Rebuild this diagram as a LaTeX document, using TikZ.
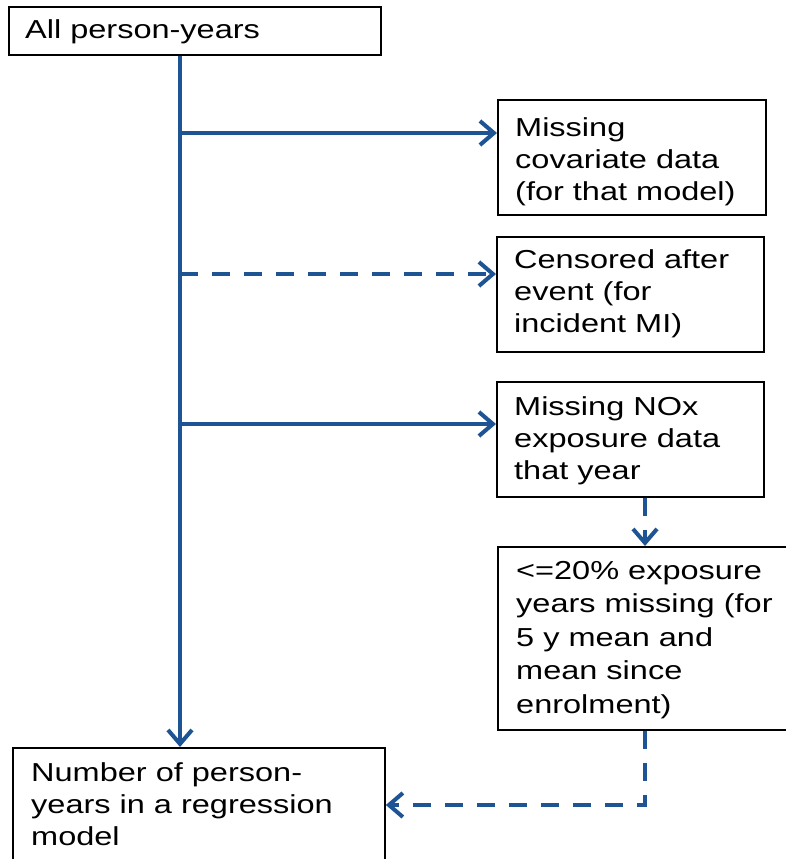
\documentclass[tikz,border=0pt]{standalone}
\usepackage{fontspec}
\setmainfont{Liberation Sans}[FakeStretch=1.25]
\usetikzlibrary{arrows.meta}
\definecolor{flowblue}{RGB}{30,84,148}
\tikzset{
  box/.style={draw=black, line width=1.8pt, anchor=north west, inner sep=0pt, fill=white},
  txt/.style={anchor=north west, inner sep=0pt, align=left, font=\fontsize{26}{32}\selectfont},
  flow/.style={line width=4pt, draw=flowblue, -{Straight Barb[length=14pt,width=24pt,line width=4pt]}},
  dashflow/.style={flow, dash pattern=on 18pt off 14pt},
}
\begin{document}
\begin{tikzpicture}[x=1pt,y=-1pt]
\useasboundingbox (0,0) rectangle (786,859);
\clip (0,0) rectangle (786,859);
\fill[white] (0,0) rectangle (786,859);
% boxes
\node[box, minimum width=372pt, minimum height=48pt] (top) at (8,6) {};
\node[box, minimum width=268pt, minimum height=115pt] (b1) at (497,99) {};
\node[box, minimum width=267pt, minimum height=115pt] (b2) at (496,236) {};
\node[box, minimum width=267pt, minimum height=115pt] (b3) at (496,381) {};
\node[box, minimum width=300pt, minimum height=183pt] (b4) at (497,546) {};
\node[box, minimum width=372pt, minimum height=130pt] (b5) at (12,747) {};
% texts
\node[txt] (t0) at (25,19) {All person-years};
\node[txt] (t1) at (515,117) {Missing\\covariate data\\(for that model)};
\node[txt] (t2) at (514,249) {Censored after\\event (for\\incident MI)};
\node[txt] (t3) at (514,396) {Missing NOx\\exposure data\\that year};
\node[txt, font=\fontsize{26}{33.5}\selectfont] (t4) at (516,561) {<=20\% exposure\\years missing (for\\5 y mean and\\mean since\\enrolment)};
\node[txt] (t5) at (31,762) {Number of person-\\years in a regression\\model};
% coordinates
\coordinate (spine) at (180,0);
\coordinate (j1) at (180,133);
\coordinate (j2) at (180,274);
\coordinate (j3) at (180,424);
\coordinate (drop) at (645,0);
\coordinate (corner) at (645,805);
% connectors
\draw[flow] (top.south -| spine) -- (b5.north -| spine);
\draw[flow] (j1) -- (j1 -| b1.west);
\draw[dashflow] (j2) -- (j2 -| b2.west);
\draw[flow] (j3) -- (j3 -| b3.west);
\draw[dashflow] (b3.south -| drop) -- (b4.north -| drop);
\draw[dashflow] (b4.south -| drop) -- (corner) -- (corner -| b5.east);
\end{tikzpicture}
\end{document}
